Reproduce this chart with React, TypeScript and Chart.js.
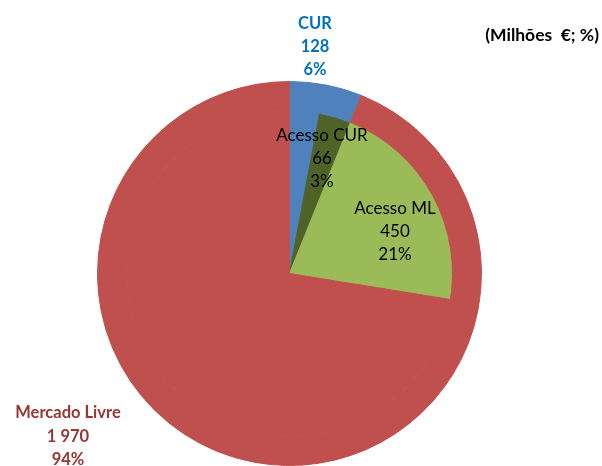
import React, { useEffect, useRef } from "react";
import { Chart, registerables } from "chart.js";

Chart.register(...registerables);

const categories = ["CUR", "Mercado Livre"];
const values = [128, 1970];
const percents = ["6%", "94%"];

const accessCategories = ["Acesso CUR", "Acesso ML"];
const accessValues = [66, 450];
const accessPercents = ["3%", "21%"];

const BLUE = "#4F81BD";
const RED = "#C0504D";
const DARK_GREEN = "#4F6228";
const LIGHT_GREEN = "#9BBB59";

function fmt(n: number): string {
  return String(n).replace(/\B(?=(\d{3})+(?!\d))/g, " ");
}

const labelPlugin = {
  id: "customLabels",
  afterDraw(chart: any) {
    const ctx = chart.ctx as CanvasRenderingContext2D;
    ctx.save();
    ctx.textAlign = "center";
    ctx.textBaseline = "middle";
    const drawBlock = (lines: string[], x: number, y: number, gap: number, font: string, color: string) => {
      ctx.font = font;
      ctx.fillStyle = color;
      lines.forEach((l, i) => ctx.fillText(l, x, y + i * gap));
    };
    const bold = "bold 16.5px Lato";
    const normal = "17px Lato";
    drawBlock([categories[0], fmt(values[0]), percents[0]], 315, 24, 23, bold, "#0070C0");
    drawBlock([categories[1], fmt(values[1]), percents[1]], 68, 413, 23.5, bold, "#953735");
    drawBlock([accessCategories[0], fmt(accessValues[0]), accessPercents[0]], 322, 136, 23, normal, "#000000");
    drawBlock([accessCategories[1], fmt(accessValues[1]), accessPercents[1]], 395, 209, 23, normal, "#000000");
    ctx.textAlign = "right";
    ctx.font = "bold 17.5px Lato";
    ctx.fillStyle = "#000000";
    ctx.fillText("(Milhões  €; %)", 599, 35);
    ctx.restore();
  },
};

export default function App() {
  const ref = useRef<HTMLCanvasElement | null>(null);
  useEffect(() => {
    if (!ref.current) return;
    const innerData = [
      values[0] - accessValues[0],
      accessValues[0],
      accessValues[1],
      values[1] - accessValues[1],
    ];
    const chart = new Chart(ref.current, {
      type: "pie",
      data: {
        labels: ["a", "b", "c", "d"],
        datasets: [
          {
            data: values,
            backgroundColor: [BLUE, RED],
            borderColor: [BLUE, RED],
            borderWidth: 1,
            weight: 29,
          },
          {
            data: innerData,
            backgroundColor: [BLUE, DARK_GREEN, LIGHT_GREEN, RED],
            borderColor: [BLUE, DARK_GREEN, LIGHT_GREEN, RED],
            borderWidth: 1,
            weight: 163,
          },
        ],
      },
      options: {
        animation: false,
        responsive: false,
        maintainAspectRatio: false,
        layout: { padding: { left: 97, top: 81, right: 120, bottom: 0 } },
        plugins: {
          legend: { display: false },
          tooltip: { enabled: false },
        },
      },
      plugins: [labelPlugin],
    });
    return () => chart.destroy();
  }, []);
  return (
    <div style={{ position: "absolute", left: 0, top: 0, width: 602, height: 466, background: "#fff" }}>
      <canvas ref={ref} width={602} height={466} style={{ width: 602, height: 466 }} />
    </div>
  );
}
